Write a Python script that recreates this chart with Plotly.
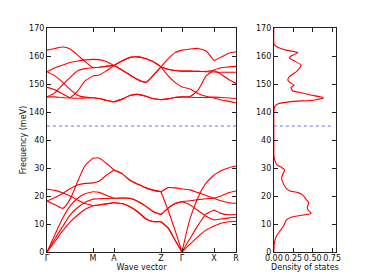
import plotly.graph_objects as go

# ---------------- data ----------------
kpath_labels = ["Γ", "M", "A", "Z", "Γ", "X", "R"]
kpath_pos = [0, 46, 67, 114, 135, 167, 189]
k = [0, 8, 16, 23, 31, 38, 46, 52, 59, 67, 75, 83, 91, 99, 106, 114,
     121, 128, 135, 143, 151, 159, 167, 174, 182, 189]
seg_idx = [0, 6, 9, 15, 18, 22, 25]

# acoustic / low optical bands (meV)
L1 = [0, 3.8, 7.7, 10.7, 13.3, 15.2, 16.5, 16.8, 17.2, 17.6, 17.3, 16.2, 14.3, 11.8, 10.9, 10.8,
      8.6, 4.3, 0, 4.8, 9.5, 13.5, 15.0, 13.8, 13.3, 13.4]
L2 = [22.4, 22.0, 21.1, 20.0, 18.5, 17.3, 16.6, 16.8, 17.2, 17.6, 17.3, 16.2, 14.3, 11.8, 10.9, 10.8,
      8.6, 4.3, 0, 2.8, 5.5, 7.8, 9.3, 10.3, 10.8, 11.0]
L3 = [0, 4.8, 9.3, 13.2, 16.0, 17.7, 18.9, 19.0, 19.1, 19.2, 19.3, 19.2, 18.0, 16.3, 14.5, 13.4,
      15.6, 17.3, 18.0, 16.8, 14.8, 12.8, 11.4, 11.8, 12.2, 12.4]
L4 = [0, 6.3, 12.3, 16.4, 19.3, 20.8, 21.5, 21.3, 20.3, 19.2, 19.3, 19.2, 18.0, 16.3, 14.5, 13.4,
      15.6, 17.3, 18.0, 18.3, 18.7, 19.0, 19.2, 20.0, 21.2, 21.8]
L5 = [18.2, 16.9, 15.6, 18.8, 25.5, 30.8, 33.5, 33.6, 31.8, 29.3, 28.0, 25.6, 24.2, 22.9, 22.1, 21.5,
      23.0, 22.9, 22.5, 22.2, 21.2, 20.2, 19.2, 18.3, 17.6, 17.4]
L6 = [18.2, 19.5, 21.0, 22.6, 24.0, 24.5, 24.7, 25.3, 27.3, 29.3, 28.0, 25.6, 24.2, 22.9, 22.1, 21.5,
      15.0, 7.8, 0, 11.8, 19.5, 24.6, 27.5, 29.0, 30.1, 30.7]

# high optical bands (meV)
U1 = [162.1, 162.7, 163.2, 162.5, 160.2, 158.0, 155.8, 156.0, 156.3, 156.6, 158.2, 159.5, 159.7, 159.0, 158.0, 156.1,
      153.0, 150.6, 148.9, 148.2, 146.6, 145.6, 145.0, 144.3, 143.8, 143.3]
U2 = [154.4, 155.8, 156.8, 157.7, 158.2, 158.6, 158.8, 158.7, 158.0, 156.6, 158.2, 159.5, 159.7, 159.0, 158.0, 156.1,
      155.3, 154.8, 154.6, 154.6, 154.5, 154.4, 154.3, 154.2, 154.2, 154.2]
U3 = [145.4, 146.9, 149.9, 152.3, 154.8, 155.5, 155.8, 156.0, 156.3, 156.6, 155.0, 153.2, 151.5, 150.6, 153.0, 156.1,
      159.0, 161.2, 162.1, 162.5, 162.7, 161.8, 158.3, 159.6, 161.0, 161.5]
U4 = [145.4, 145.4, 145.1, 145.1, 147.6, 151.1, 152.9, 153.2, 154.6, 156.6, 155.0, 153.2, 151.5, 150.6, 153.0, 156.1,
      155.3, 154.8, 154.6, 154.6, 154.5, 154.5, 154.8, 153.5, 151.5, 150.2]
U5 = [154.4, 152.9, 150.5, 148.1, 145.9, 145.3, 145.1, 144.8, 144.2, 143.6, 144.6, 145.9, 146.3, 145.6, 144.8, 144.4,
      144.7, 145.2, 145.4, 145.5, 147.8, 152.8, 155.0, 155.8, 156.1, 156.3]
U6 = [148.8, 147.9, 146.4, 145.1, 144.9, 145.0, 145.1, 144.8, 144.2, 143.6, 144.6, 145.9, 146.3, 145.6, 144.8, 144.4,
      144.7, 145.2, 145.4, 145.3, 145.2, 145.2, 145.3, 145.2, 145.0, 144.8]

# density of states
dos_freq = [0, 3, 5.5, 7.3, 9.0, 11.4, 12.4, 13.1, 13.8, 15.0, 16.0, 17.6, 18.6, 20.4, 21.2, 21.9, 22.7,
            24.5, 26.3, 28.1, 29.3, 30.2, 31.1, 32.9, 34.5, 40,
            140, 141.9, 142.9, 143.7, 144.3, 145.1, 146.1, 146.9, 147.6, 148.8, 149.6, 150.3, 151.4, 152.6,
            154.4, 156.0, 156.8, 158.3, 159.2, 160.0, 161.2, 162.1, 163.1, 164.0, 164.5, 170]
dos_val = [0, 0.005, 0.03, 0.073, 0.12, 0.16, 0.22, 0.35, 0.48, 0.44, 0.43, 0.45, 0.42, 0.37, 0.31, 0.20, 0.16,
           0.12, 0.10, 0.12, 0.14, 0.10, 0.04, 0.01, 0, 0,
           0, 0.01, 0.05, 0.22, 0.53, 0.64, 0.47, 0.35, 0.24, 0.22, 0.26, 0.22, 0.18, 0.20,
           0.29, 0.34, 0.35, 0.26, 0.20, 0.22, 0.31, 0.16, 0.05, 0.01, 0, 0]

ytick_labels = ["0", "10", "20", "30", "40", "140", "150", "160", "170"]
gap_line = 45          # position of the dotted break line on the compressed axis
dos_ticks = [0, 0.25, 0.5, 0.75]
dos_ticktext = ["0.00", "0.25", "0.50", "0.75"]


def squeeze(f):
    # broken axis: 140-170 meV drawn directly above 40 meV
    return f - 90 if f >= 100 else f


ytick_pos = [squeeze(float(t)) for t in ytick_labels]

fig = go.Figure()
RED = "#ff0000"
for band in [L1, L2, L3, L4, L5, L6, U1, U2, U3, U4, U5, U6]:
    xs, ys = [], []
    for s in range(len(seg_idx) - 1):
        for i in range(seg_idx[s], seg_idx[s + 1] + 1):
            xs.append(k[i])
            ys.append(squeeze(band[i]))
        xs.append(None)
        ys.append(None)
    fig.add_trace(go.Scatter(x=xs, y=ys, mode="lines", xaxis="x", yaxis="y",
                             line=dict(color=RED, width=1.1, shape="spline", smoothing=0.6),
                             hoverinfo="skip", showlegend=False))

fig.add_trace(go.Scatter(x=[kpath_pos[0], kpath_pos[-1]], y=[gap_line, gap_line], mode="lines",
                         xaxis="x", yaxis="y", line=dict(color="rgb(110,110,255)", width=1, dash="dot"),
                         hoverinfo="skip", showlegend=False))
fig.add_trace(go.Scatter(x=[0, 0.75], y=[gap_line, gap_line], mode="lines",
                         xaxis="x2", yaxis="y2", line=dict(color="rgb(110,110,255)", width=1, dash="dot"),
                         hoverinfo="skip", showlegend=False))
fig.add_trace(go.Scatter(x=dos_val, y=[squeeze(f) for f in dos_freq], mode="lines",
                         xaxis="x2", yaxis="y2",
                         line=dict(color=RED, width=1.1, shape="spline", smoothing=0.5),
                         hoverinfo="skip", showlegend=False))

axis_common = dict(showline=True, linecolor="#222", linewidth=1, mirror="allticks",
                   ticks="inside", ticklen=4, tickcolor="#222", showgrid=False, zeroline=False,
                   automargin=False, tickfont=dict(size=8, color="#111"))

# the page body adds an 8 px offset at top/left, so the figure is drawn 8 px smaller
fig.update_layout(
    width=366, height=272,
    margin=dict(l=39, r=38, t=20, b=28),
    paper_bgcolor="white", plot_bgcolor="white",
    font=dict(family="DejaVu Sans", size=8, color="#111"),
    xaxis=dict(domain=[0, 0.654], range=[kpath_pos[0], kpath_pos[-1]], tickvals=kpath_pos,
               ticktext=kpath_labels, anchor="y", tickangle=0, ticklabelstandoff=-2,
               title=dict(text="Wave vector", standoff=1, font=dict(size=8)), **axis_common),
    yaxis=dict(domain=[0, 1], range=[0, 80], tickvals=ytick_pos, ticktext=ytick_labels, anchor="x",
               title=dict(text="Frequency (meV)", standoff=1, font=dict(size=8)), **axis_common),
    xaxis2=dict(domain=[0.785, 1], range=[0, 0.8], tickvals=dos_ticks, ticktext=dos_ticktext,
                anchor="y2", tickangle=0, ticklabelstandoff=-2,
                title=dict(text="Density of states", standoff=1, font=dict(size=8)),
                **axis_common),
    yaxis2=dict(domain=[0, 1], range=[0, 80], tickvals=ytick_pos, ticktext=ytick_labels,
                anchor="x2", **axis_common),
)

fig.write_html("out.html")
